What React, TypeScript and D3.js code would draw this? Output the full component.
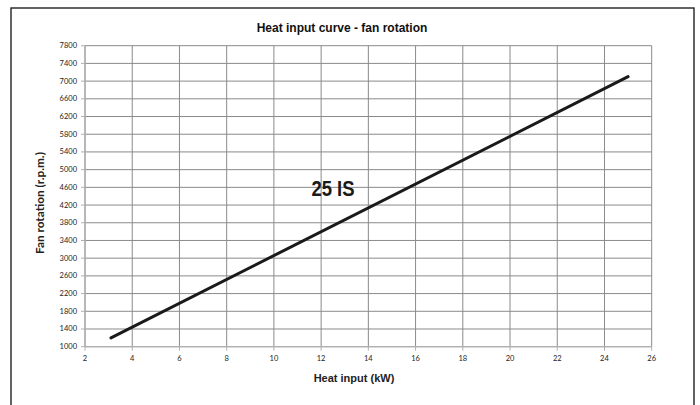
import React from "react";
import * as d3 from "d3";

const heatInput = [3.1, 25];
const fanRpm = [1200, 7100];
const xTicks = [2, 4, 6, 8, 10, 12, 14, 16, 18, 20, 22, 24, 26];
const yTicks = [1000, 1400, 1800, 2200, 2600, 3000, 3400, 3800, 4200, 4600, 5000, 5400, 5800, 6200, 6600, 7000, 7400, 7800];
const title = "Heat input curve - fan rotation";
const xLabel = "Heat input (kW)";
const yLabel = "Fan rotation (r.p.m.)";
const seriesLabel = "25 IS";

export default function App() {
  const W = 700, H = 405;
  const left = 85, right = 651.7, top = 45.7, bottom = 346.7;
  const x = d3.scaleLinear().domain([2, 26]).range([left, right]);
  const y = d3.scaleLinear().domain([1000, 7800]).range([bottom, top]);
  const pts = heatInput.map((v, i) => [v, fanRpm[i]] as [number, number]);
  const line = d3.line<[number, number]>().x(d => x(d[0])).y(d => y(d[1]));
  const tickFont = "Lato, 'Open Sans', sans-serif";
  return (
    <svg width={W} height={H} style={{ position: "fixed", left: 0, top: 0, background: "#fff" }}>
      <rect x={0} y={0} width={W} height={H} fill="#fff" />
      <rect x={11} y={8} width={683} height={420} fill="none" stroke="#222" strokeWidth={1.4} />
      <text x={342} y={32} textAnchor="middle" fontFamily="'Liberation Sans', Arial, sans-serif" fontWeight="bold" fontSize={12} fill="#111">{title}</text>
      {xTicks.map(t => (
        <line key={"gx" + t} x1={x(t)} x2={x(t)} y1={top} y2={bottom} stroke="#8a8a8a" strokeWidth={1} />
      ))}
      {yTicks.map(t => (
        <line key={"gy" + t} x1={left} x2={right} y1={y(t)} y2={y(t)} stroke="#8a8a8a" strokeWidth={1} />
      ))}
      <line x1={left} x2={left} y1={top} y2={bottom} stroke="#b0b0b0" strokeWidth={1.3} />
      <line x1={left} x2={right} y1={bottom} y2={bottom} stroke="#b0b0b0" strokeWidth={1.3} />
      {yTicks.map(t => (
        <g key={"ty" + t}>
          <line x1={left - 4} x2={left} y1={y(t)} y2={y(t)} stroke="#b0b0b0" strokeWidth={1} />
          <text x={77} y={y(t)} dy="0.33em" textAnchor="end" fontFamily={tickFont} fontSize={7.5} fill="#222">{t}</text>
        </g>
      ))}
      {xTicks.map(t => (
        <g key={"tx" + t}>
          <line x1={x(t)} x2={x(t)} y1={bottom} y2={bottom + 4} stroke="#b0b0b0" strokeWidth={1} />
          <text x={x(t)} y={361} textAnchor="middle" fontFamily={tickFont} fontSize={7.5} fill="#222">{t}</text>
        </g>
      ))}
      <path d={line(pts) || ""} fill="none" stroke="#1a1a1a" strokeWidth={3} strokeLinecap="round" />
      <text transform="translate(333, 196) scale(0.86, 1)" textAnchor="middle" fontFamily="'Liberation Sans', Arial, sans-serif" fontWeight="bold" fontSize={21.5} fill="#1a1a1a">{seriesLabel}</text>
      <text x={354} y={382} textAnchor="middle" fontFamily="'Liberation Sans', Arial, sans-serif" fontWeight="bold" fontSize={11} fill="#222">{xLabel}</text>
      <text transform={`translate(44, 203) rotate(-90)`} textAnchor="middle" fontFamily={tickFont} fontWeight="bold" fontSize={11.8} fill="#222">{yLabel}</text>
    </svg>
  );
}
